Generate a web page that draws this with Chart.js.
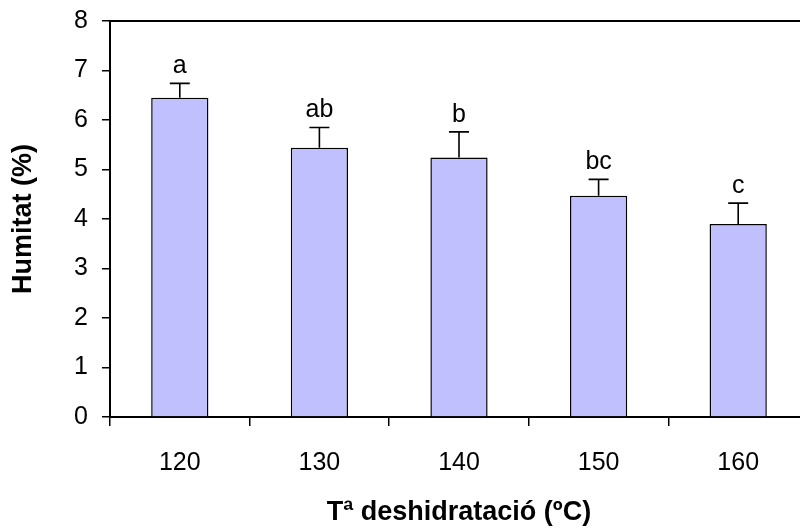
<!DOCTYPE html>
<html>
<head>
<meta charset="utf-8">
<script src="https://cdn.jsdelivr.net/npm/chart.js@4.4.1/dist/chart.umd.min.js"></script>
<style>
  html, body { margin: 0; padding: 0; background: #fff; overflow: hidden; width: 800px; height: 528px; }
  #wrap { width: 812px; height: 528px; }
</style>
</head>
<body>
<div id="wrap"><canvas id="c" width="812" height="528"></canvas></div>
<script>
// Drying temperature (ºC) and moisture content (%)
const temperatures = ['120', '130', '140', '150', '160'];
const humitatMean = [6.45, 5.44, 5.24, 4.47, 3.90];
const humitatSD = [0.29, 0.41, 0.52, 0.33, 0.42];
const groupLetters = ['a', 'ab', 'b', 'bc', 'c'];
const yTicks = [0, 1, 2, 3, 4, 5, 6, 7, 8];

const FONT = '"Liberation Sans", Arial, Helvetica, sans-serif';

// Upper error whiskers, significance letters and the top/right frame lines
const decorations = {
  id: 'decorations',
  afterDatasetsDraw(chart) {
    const { ctx, chartArea, scales } = chart;
    const meta = chart.getDatasetMeta(0);
    ctx.save();
    ctx.strokeStyle = '#000';
    ctx.lineWidth = 1.6;
    meta.data.forEach((bar, i) => {
      const x = bar.x;
      const yTop = scales.y.getPixelForValue(humitatMean[i]);
      const yErr = scales.y.getPixelForValue(humitatMean[i] + humitatSD[i]);
      ctx.beginPath();
      ctx.moveTo(x, yTop);
      ctx.lineTo(x, yErr);
      ctx.moveTo(x - 10, yErr);
      ctx.lineTo(x + 10, yErr);
      ctx.stroke();
      ctx.fillStyle = '#000';
      ctx.font = '25px ' + FONT;
      ctx.textAlign = 'center';
      ctx.textBaseline = 'alphabetic';
      ctx.fillText(groupLetters[i], x, yErr - 10);
    });
    ctx.lineWidth = 2;
    ctx.beginPath();
    ctx.moveTo(chartArea.left, chartArea.top);
    ctx.lineTo(chartArea.right, chartArea.top);
    ctx.lineTo(chartArea.right, chartArea.bottom);
    ctx.stroke();
    ctx.restore();
  }
};

new Chart(document.getElementById('c'), {
  type: 'bar',
  data: {
    labels: temperatures,
    datasets: [{
      data: humitatMean,
      backgroundColor: '#C0C0FF',
      borderColor: '#000',
      borderWidth: 1.5,
      barPercentage: 0.41,
      categoryPercentage: 1.0
    }]
  },
  options: {
    responsive: false,
    animation: false,
    devicePixelRatio: 1,
    layout: { padding: { top: 21, right: 4, left: 0, bottom: 0 } },
    plugins: { legend: { display: false }, tooltip: { enabled: false } },
    scales: {
      x: {
        offset: true,
        grid: { display: true, offset: true, drawOnChartArea: false, drawTicks: true, tickLength: 9, color: '#000', lineWidth: 1.5 },
        border: { display: true, color: '#000', width: 2 },
        ticks: { color: '#000', font: { family: FONT, size: 25 }, padding: 22, maxRotation: 0 },
        title: { display: true, text: 'Tª deshidratació (ºC)', color: '#000', font: { family: FONT, size: 27, weight: 'bold', lineHeight: 1 }, padding: { top: 0, bottom: 2 } },
        afterFit(scale) { scale.height = 111; scale.paddingLeft = 0; scale.paddingRight = 0; }
      },
      y: {
        min: 0,
        max: 8,
        afterBuildTicks(scale) { scale.ticks = yTicks.map(v => ({ value: v })); },
        grid: { display: true, drawOnChartArea: false, drawTicks: true, tickLength: 8, color: '#000', lineWidth: 1.5 },
        border: { display: true, color: '#000', width: 2 },
        ticks: { color: '#000', font: { family: FONT, size: 25 }, padding: 14 },
        title: { display: true, text: 'Humitat (%)', color: '#000', font: { family: FONT, size: 27, weight: 'bold', lineHeight: 1 }, padding: { top: 10, bottom: 0 } },
        afterFit(scale) { scale.width = 110; scale.paddingTop = 0; scale.paddingBottom = 0; }
      }
    }
  },
  plugins: [decorations]
});
</script>
</body>
</html>
